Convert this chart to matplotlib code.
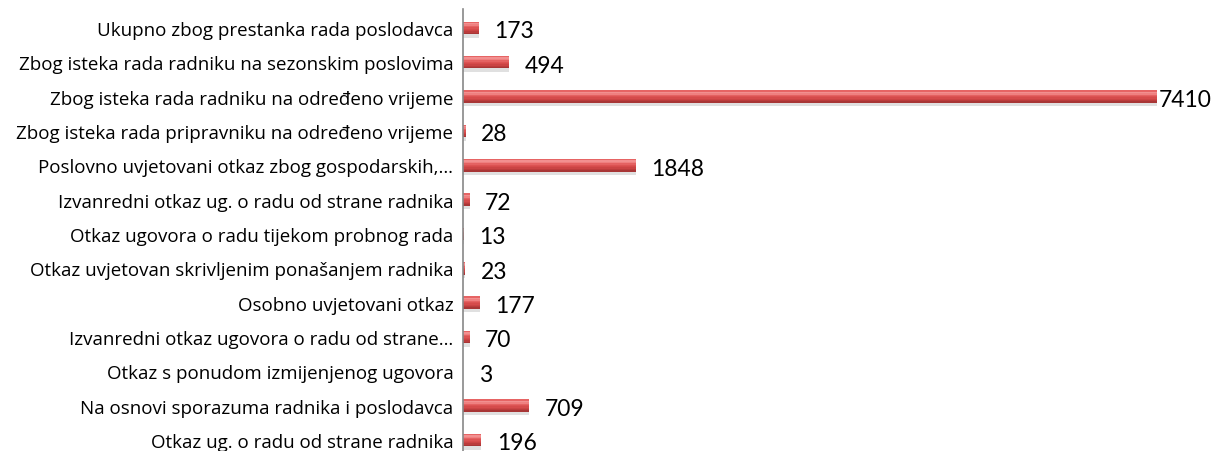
import numpy as np
import matplotlib.pyplot as plt

# =========================
# Дані
# =========================
categories = [
    "Ukupno zbog prestanka rada poslodavca",
    "Zbog isteka rada radniku na sezonskim poslovima",
    "Zbog isteka rada radniku na određeno vrijeme",
    "Zbog isteka rada pripravniku na određeno vrijeme",
    "Poslovno uvjetovani otkaz zbog gospodarskih,…",
    "Izvanredni otkaz ug. o radu od strane radnika",
    "Otkaz ugovora o radu tijekom probnog rada",
    "Otkaz uvjetovan skrivljenim ponašanjem radnika",
    "Osobno uvjetovani otkaz",
    "Izvanredni otkaz ugovora o radu od strane…",
    "Otkaz s ponudom izmijenjenog ugovora",
    "Na osnovi sporazuma radnika i poslodavca",
    "Otkaz ug. o radu od strane radnika",
]
values = [173, 494, 7410, 28, 1848, 72, 13, 23, 177, 70, 3, 709, 196]

fig = plt.figure(figsize=(12.15, 4.52), dpi=100)
ax = fig.add_axes([463 / 1215, 0.0, (1157 - 463) / 1215, 0.978])

y = np.arange(len(categories))
v = np.array(values)

# тінь під смугою
ax.barh(y + 0.07, v, height=0.42, color="#9a9a9a", alpha=0.3, zorder=1)

# "циліндр": смужки градієнта зверху вниз
bar_h = 0.36
shades = ["#e66464", "#f29090", "#ef8080", "#e46262", "#dc5353",
          "#d54b4b", "#ca4444", "#bb3c3c", "#a83636"]
step = bar_h / len(shades)
for k, c in enumerate(shades):
    ax.barh(y - bar_h / 2 + step * (k + 0.5), v, height=step * 1.05,
            color=c, linewidth=0, zorder=2)

for i, val in enumerate(values):
    off = 1 if val == max(values) else 11
    ax.annotate(str(val), (val, i), xytext=(off, -2), textcoords="offset points",
                ha="left", va="center", fontsize=16.5, color="black",
                family=["Lato", "DejaVu Sans"], annotation_clip=False)

ax.set_xlim(0, max(values))
ax.set_ylim(12.32, -0.553)
ax.set_yticks(y)
ax.set_yticklabels(categories, fontsize=13.5, family=["Open Sans", "DejaVu Sans"])
ax.tick_params(axis="y", length=0, pad=7)
ax.set_xticks([])

for s in ["top", "right", "bottom"]:
    ax.spines[s].set_visible(False)
ax.spines["left"].set_color("#888888")
ax.spines["left"].set_linewidth(1.2)

fig.savefig("out.png", dpi=100)
